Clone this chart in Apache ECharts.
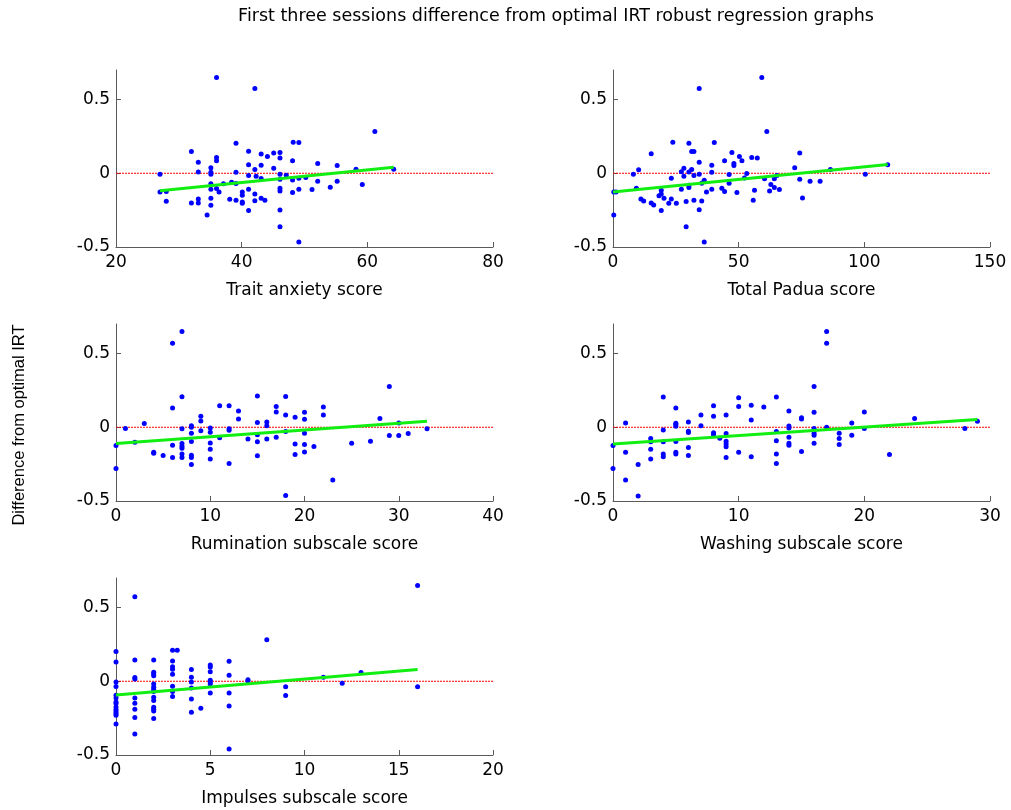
<!DOCTYPE html>
<html>
<head>
<meta charset="utf-8">
<script src="https://cdn.jsdelivr.net/npm/echarts@6/dist/echarts.min.js"></script>
<style>
  html, body { margin: 0; padding: 0; background: #ffffff; }
  #chart { width: 1011px; height: 810px; }
</style>
</head>
<body>
<div id="chart"></div>
<script>
// Difference from optimal IRT (first three sessions) against each questionnaire score.
const traitPoints = [
  [36,0.649],[42.1,0.575],[61.2,0.283],[39.1,0.204],[48.2,0.21],[49.1,0.208],[32,0.147],[41.1,0.149],
  [43.1,0.131],[44.1,0.113],[45.1,0.138],[46.1,0.14],[46.1,0.104],[36,0.106],[36,0.084],[33.1,0.075],
  [48.1,0.084],[41.1,0.057],[43.1,0.054],[52.1,0.066],[55.2,0.052],[35.1,0.038],[45.1,0.034],[42.1,0.025],
  [58.2,0.027],[64.2,0.027],[33.1,0.009],[35.1,0.007],[39.1,0.007],[27,-0.007],[35.1,-0.007],[41.1,-0.016],
  [42.3,-0.02],[46.1,-0.007],[47.1,-0.014],[43.1,-0.036],[46.1,-0.041],[48.1,-0.045],[49.1,-0.034],[50.2,-0.029],
  [52.1,-0.054],[55.2,-0.054],[35.1,-0.072],[37.1,-0.072],[38.4,-0.061],[39.1,-0.07],[59.2,-0.077],[54.1,-0.095],
  [27,-0.127],[28,-0.124],[35.1,-0.109],[36,-0.104],[36.4,-0.127],[41.1,-0.109],[46.1,-0.102],[46.1,-0.12],
  [49.1,-0.109],[51.2,-0.111],[48.1,-0.131],[40.1,-0.127],[40.1,-0.149],[42.1,-0.14],[28,-0.19],[33.1,-0.174],
  [35.1,-0.17],[38.1,-0.176],[39.1,-0.183],[43.1,-0.17],[43.7,-0.183],[42.1,-0.186],[40.1,-0.195],[40.1,-0.204],
  [32,-0.201],[33.1,-0.201],[35.1,-0.217],[34.5,-0.283],[41.1,-0.253],[46.1,-0.249],[46.1,-0.362],[49.1,-0.466]
];
const traitFit = [[27,-0.118],[64.2,0.041]];

const paduaPoints = [
  [59.2,0.649],[34.3,0.575],[61.2,0.283],[23.8,0.21],[30.2,0.204],[40.3,0.208],[15.2,0.133],[31.3,0.147],
  [32.2,0.147],[47.3,0.14],[74.3,0.138],[50.3,0.113],[55.2,0.106],[57.4,0.104],[44.4,0.084],[51.3,0.084],
  [34.3,0.075],[48.1,0.066],[48.1,0.052],[39.3,0.054],[72.3,0.038],[10.2,0.023],[28.2,0.034],[31.3,0.025],
  [27.2,0.011],[30.2,0.009],[39.3,0.007],[86.5,0.025],[109.3,0.057],[8.1,-0.007],[34.3,-0.007],[32.2,-0.016],
  [28.2,-0.02],[46.2,-0.009],[53.2,-0.002],[52.3,-0.032],[65.2,-0.016],[100.4,-0.007],[23.2,-0.034],[36.3,-0.048],
  [60.3,-0.038],[64.2,-0.038],[74.3,-0.041],[78.4,-0.054],[82.4,-0.054],[35.3,-0.068],[46.2,-0.068],[30.2,-0.081],
  [30.2,-0.097],[27.2,-0.109],[9.3,-0.102],[39.3,-0.109],[43.3,-0.102],[62.8,-0.077],[64.2,-0.097],[66.2,-0.111],
  [56.3,-0.115],[62.3,-0.12],[19.2,-0.115],[37.2,-0.127],[44.4,-0.124],[49.3,-0.131],[0.3,-0.127],[1.2,-0.127],
  [19.2,-0.14],[18.3,-0.152],[11.1,-0.174],[12.2,-0.188],[20.3,-0.17],[23.2,-0.174],[15.2,-0.201],[16.2,-0.215],
  [22.2,-0.204],[25.2,-0.204],[29.1,-0.192],[32.2,-0.183],[35.3,-0.188],[55.8,-0.183],[75.4,-0.167],[19.2,-0.253],
  [34.3,-0.247],[0.3,-0.283],[29.1,-0.362],[36.3,-0.466]
];
const paduaFit = [[0,-0.127],[109.3,0.059]];

const ruminationPoints = [
  [7,0.649],[6,0.57],[29,0.277],[7,0.207],[15,0.212],[18,0.209],[6,0.131],[11,0.146],[12,0.146],[17,0.14],
  [22,0.137],[13,0.11],[17,0.104],[20,0.101],[9,0.074],[18,0.083],[19,0.068],[22,0.083],[13,0.056],[20,0.054],
  [28,0.059],[9,0.043],[3,0.025],[15,0.032],[16,0.036],[30,0.029],[8,0.011],[16,0.011],[1,-0.009],[7,-0.011],
  [8,0],[10,-0.005],[12,-0.011],[12,-0.02],[9,-0.023],[10,-0.034],[33,-0.011],[18,-0.029],[8,-0.041],[15,-0.05],
  [20,-0.041],[29,-0.056],[30,-0.056],[31,-0.043],[11,-0.072],[14,-0.079],[16,-0.079],[17,-0.068],[7,-0.11],[8,-0.097],
  [15,-0.099],[2,-0.101],[0,-0.124],[6,-0.122],[7,-0.128],[7,-0.142],[10,-0.106],[19,-0.113],[20,-0.117],[21,-0.131],
  [25,-0.108],[27,-0.095],[4,-0.169],[4,-0.176],[5,-0.191],[6,-0.205],[7,-0.182],[7,-0.205],[8,-0.189],[8,-0.205],
  [10,-0.149],[10,-0.216],[15,-0.194],[19,-0.185],[20,-0.167],[8,-0.252],[12,-0.245],[0,-0.279],[23,-0.358],[18,-0.462]
];
const ruminationFit = [[0,-0.11],[33,0.041]];

const washingPoints = [
  [17,0.649],[17,0.57],[16,0.277],[4,0.205],[10,0.2],[13,0.205],[5,0.131],[8,0.146],[10,0.14],[11,0.149],
  [12,0.137],[14,0.11],[16,0.101],[20,0.104],[7,0.083],[9,0.083],[8,0.074],[15,0.065],[15,0.056],[11,0.05],
  [24,0.059],[1,0.029],[5,0.027],[6,0.036],[5,0.018],[5,0.007],[7,0.011],[19,0.029],[29,0.041],[14,0.009],
  [14,-0.005],[17,0],[16,-0.009],[4,-0.018],[6,-0.027],[6,-0.036],[13,-0.029],[20,-0.009],[28,-0.009],[8,-0.038],
  [8,-0.05],[9,-0.043],[16,-0.041],[16,-0.054],[18,-0.041],[19,-0.054],[8.5,-0.074],[14,-0.068],[3,-0.077],[3,-0.099],
  [4,-0.099],[5,-0.097],[9,-0.095],[9,-0.113],[9,-0.133],[13,-0.092],[14,-0.108],[14,-0.122],[16,-0.108],[18,-0.077],
  [18,-0.117],[0,-0.124],[6,-0.138],[3,-0.149],[1,-0.169],[5,-0.169],[5,-0.182],[10,-0.169],[15,-0.164],[13,-0.182],
  [22,-0.185],[4,-0.182],[4,-0.2],[6,-0.191],[9,-0.205],[11,-0.2],[3,-0.216],[2,-0.252],[13,-0.245],[0,-0.279],
  [1,-0.358],[2,-0.466]
];
const washingFit = [[0,-0.113],[29,0.052]];

const impulsesPoints = [
  [16,0.65],[1,0.573],[8,0.282],[3,0.21],[3.25,0.21],[0,0.201],[0,0.131],[1,0.144],[2,0.144],[3,0.138],
  [6,0.135],[3,0.099],[3,0.081],[4,0.079],[5,0.11],[5,0.097],[5,0.065],[2,0.061],[2,0.05],[2,0.038],
  [3,0.047],[4,0.027],[6,0.041],[13,0.059],[1,0.025],[1,0.016],[4,-0.005],[5,0.007],[5,-0.005],[7,0.011],
  [7,0.002],[11,0.027],[0,-0.005],[2,-0.018],[12,-0.014],[2,-0.041],[0,-0.036],[3,-0.034],[4,-0.045],[5,-0.018],
  [9,-0.038],[16,-0.038],[2,-0.056],[2,-0.07],[3,-0.07],[5,-0.079],[6,-0.079],[3,-0.104],[0,-0.095],[0,-0.113],
  [1,-0.113],[2,-0.108],[2,-0.131],[0,-0.14],[1,-0.149],[9,-0.097],[4,-0.12],[0,-0.151],[0,-0.174],[2,-0.176],
  [2,-0.19],[0,-0.192],[0,-0.205],[0,-0.219],[1,-0.189],[2,-0.201],[4.5,-0.183],[6,-0.167],[4,-0.21],[0,-0.23],
  [1,-0.246],[2,-0.253],[0,-0.289],[1,-0.357],[6,-0.46]
];
const impulsesFit = [[0,-0.093],[16,0.079]];

const xAxisNames = ['Trait anxiety score', 'Total Padua score', 'Rumination subscale score',
                    'Washing subscale score', 'Impulses subscale score'];
const xRanges = [[20, 80, 20], [0, 150, 50], [0, 40, 10], [0, 30, 10], [0, 20, 5]];
const yRange = [-0.5, 0.7, 0.5];
const yTickValues = [-0.5, 0, 0.5];
const chartTitle = 'First three sessions difference from optimal IRT robust regression graphs';
const yAxisTitle = 'Difference from optimal IRT';

const pointSets = [traitPoints, paduaPoints, ruminationPoints, washingPoints, impulsesPoints];
const fitLines = [traitFit, paduaFit, ruminationFit, washingFit, impulsesFit];

// subplot placement (2 columns x 3 rows)
const cellLeft = [116, 613, 116, 613, 116];
const cellTop = [70, 70, 324, 324, 578];
const cellW = 377, cellH = 177;

const axisColor = '#5a5a5a';
const tickFont = { fontFamily: 'DejaVu Sans', fontSize: 17, color: '#000000' };

const grid = [], xAxis = [], yAxis = [], series = [];
pointSets.forEach((pts, i) => {
  const [xMin, xMax, xStep] = xRanges[i];
  grid.push({ left: cellLeft[i], top: cellTop[i], width: cellW, height: cellH, containLabel: false });
  xAxis.push({
    gridIndex: i, type: 'value',
    min: xMin, max: xMax, interval: xStep,
    name: xAxisNames[i], nameLocation: 'middle', nameGap: 35,
    nameTextStyle: { fontFamily: 'DejaVu Sans', fontSize: 17, color: '#000000' },
    axisLine: { show: true, onZero: false, lineStyle: { color: axisColor, width: 1 } },
    axisTick: { show: true, inside: true, length: 5, lineStyle: { color: axisColor, width: 1 } },
    axisLabel: Object.assign({ margin: 7, showMinLabel: true, showMaxLabel: true }, tickFont),
    splitLine: { show: false }
  });
  yAxis.push({
    gridIndex: i, type: 'value',
    min: yRange[0], max: yRange[1], interval: yRange[2],
    axisLine: { show: true, onZero: false, lineStyle: { color: axisColor, width: 1 } },
    axisTick: { show: true, inside: true, length: 5, lineStyle: { color: axisColor, width: 1 } },
    axisLabel: Object.assign({
      margin: 6,
      showMaxLabel: false,
      formatter: v => yTickValues.some(t => Math.abs(t - v) < 1e-9) ? String(v) : ''
    }, tickFont),
    splitLine: { show: false }
  });
  // zero reference across the whole x range
  series.push({
    type: 'line', xAxisIndex: i, yAxisIndex: i,
    data: [[xMin, 0], [xMax, 0]], showSymbol: false, symbol: 'none',
    lineStyle: { color: '#ff0000', width: 1, type: [2, 1], opacity: 1 },
    silent: true, z: 2
  });
  series.push({
    type: 'scatter', xAxisIndex: i, yAxisIndex: i,
    data: pts, symbol: 'circle', symbolSize: 5,
    itemStyle: { color: '#0000ff', opacity: 1 },
    silent: true, z: 3
  });
  series.push({
    type: 'line', xAxisIndex: i, yAxisIndex: i,
    data: fitLines[i], showSymbol: false, symbol: 'none',
    lineStyle: { color: '#11ee11', width: 3 },
    silent: true, z: 4
  });
});

const chart = echarts.init(document.getElementById('chart'), null, { renderer: 'canvas' });
chart.setOption({
  animation: false,
  backgroundColor: '#ffffff',
  grid, xAxis, yAxis, series,
  graphic: [
    {
      type: 'text',
      x: 556, y: 16,
      style: {
        text: chartTitle,
        fontFamily: 'DejaVu Sans', fontSize: 17.5, fill: '#000000',
        textAlign: 'center', textVerticalAlign: 'middle'
      }
    },
    {
      type: 'text',
      x: 19, y: 425, rotation: Math.PI / 2,
      style: {
        text: yAxisTitle,
        fontFamily: 'Liberation Sans', fontSize: 16.5, fill: '#000000',
        textAlign: 'center', textVerticalAlign: 'middle'
      }
    }
  ]
});
</script>
</body>
</html>
